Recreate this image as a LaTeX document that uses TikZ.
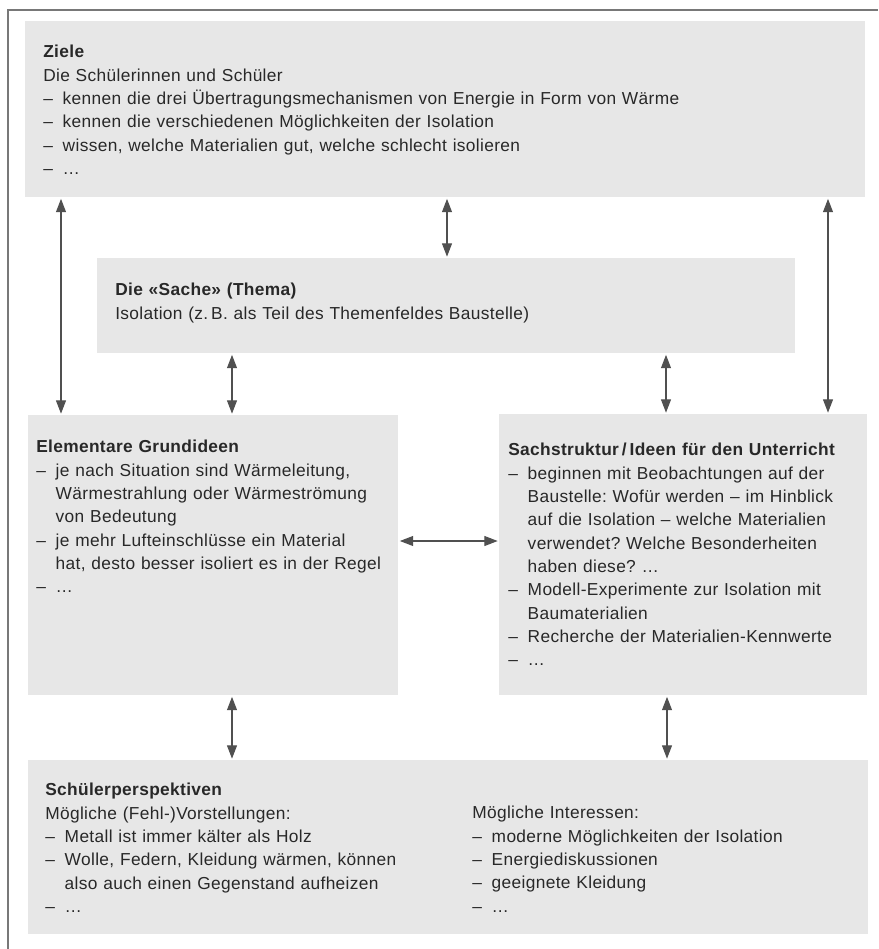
\documentclass[tikz,border=0pt]{standalone}
\usepackage{fontspec}
\setmainfont{Liberation Sans}[LetterSpace=2]
\usetikzlibrary{arrows.meta}
\frenchspacing

\definecolor{boxgrau}{RGB}{231,231,231}
\definecolor{pfeilgrau}{RGB}{80,80,80}
\definecolor{textgrau}{RGB}{40,40,40}
\definecolor{rahmengrau}{RGB}{120,120,120}

\newcommand{\strich}{\makebox[14.6pt][l]{–}}
\newcommand{\weiter}{\hspace*{14.6pt}}

\tikzset{
    kasten/.style={fill=boxgrau, inner sep=0pt, anchor=north west},
    inhalt/.style={anchor=north west, inner sep=0pt, text width=#1, align=left,
        text=textgrau, font=\fontsize{13pt}{17.5pt}\selectfont},
    pfeil/.style={draw=pfeilgrau, line width=0.8pt, >={Triangle[length=10pt,width=7.5pt]}, <->,
        shorten <=1pt, shorten >=1pt}
}

\begin{document}
\begin{tikzpicture}[x=0.75pt,y=-0.75pt]
\useasboundingbox (0,0) rectangle (878,949);
\draw[rahmengrau, line width=0.8pt] (8,949) -- (8,10) -- (878,10);

% Kaesten
\node[kasten, minimum width=630pt, minimum height=132pt] (ziele) at (25,21) {};
\node[kasten, minimum width=523.5pt, minimum height=71.25pt] (sache) at (97,258) {};
\node[kasten, minimum width=277.5pt, minimum height=210pt] (elem) at (28,415) {};
\node[kasten, minimum width=276pt, minimum height=210.75pt] (sachstr) at (499,414) {};
\node[kasten, minimum width=630pt, minimum height=130.5pt] (schueler) at (28,760) {};

% Texte
\node[inhalt=600pt] (zieletext) at (43,45) {\textbf{Ziele}\\
Die Schülerinnen und Schüler\\
\strich kennen die drei Übertragungsmechanismen von Energie in Form von Wärme\\
\strich kennen die verschiedenen Möglichkeiten der Isolation\\
\strich wissen, welche Materialien gut, welche schlecht isolieren\\
\strich \dots};
\node[inhalt=500pt] (sachetext) at (115,283) {\textbf{Die «Sache» (Thema)}\\
Isolation (z.\,B. als Teil des Themenfeldes Baustelle)};
\node[inhalt=300pt] (elemtext) at (36,440) {\textbf{Elementare Grundideen}\\
\strich je nach Situation sind Wärmeleitung,\\
\weiter Wärmestrahlung oder Wärmeströmung\\
\weiter von Bedeutung\\
\strich je mehr Lufteinschlüsse ein Material\\
\weiter hat, desto besser isoliert es in der Regel\\
\strich \dots};
\node[inhalt=300pt] (sachstrtext) at (508,443) {\textbf{Sachstruktur\,/\,Ideen für den Unterricht}\\
\strich beginnen mit Beobachtungen auf der\\
\weiter Baustelle: Wofür werden – im Hinblick\\
\weiter auf die Isolation – welche Materialien\\
\weiter verwendet? Welche Besonderheiten\\
\weiter haben diese? \dots\\
\strich Modell-Experimente zur Isolation mit\\
\weiter Baumaterialien\\
\strich Recherche der Materialien-Kennwerte\\
\strich \dots};
\node[inhalt=300pt] (schuelertext) at (45,783) {\textbf{Schülerperspektiven}\\
Mögliche (Fehl-)Vorstellungen:\\
\strich Metall ist immer kälter als Holz\\
\strich Wolle, Federn, Kleidung wärmen, können\\
\weiter also auch einen Gegenstand aufheizen\\
\strich \dots};
\node[inhalt=280pt] (interessentext) at (472,806) {Mögliche Interessen:\\
\strich moderne Möglichkeiten der Isolation\\
\strich Energiediskussionen\\
\strich geeignete Kleidung\\
\strich \dots};

% Pfeile
\foreach \oben/\unten/\x in {ziele/elem/61, ziele/sache/447, ziele/sachstr/828,
    sache/elem/232, sache/sachstr/666, elem/schueler/232, sachstr/schueler/667}
{
    \draw[pfeil] (\oben.south -| \x,0) -- (\unten.north -| \x,0);
}
\draw[pfeil] (elem.east |- 0,541) -- (sachstr.west |- 0,541);
\end{tikzpicture}
\end{document}
